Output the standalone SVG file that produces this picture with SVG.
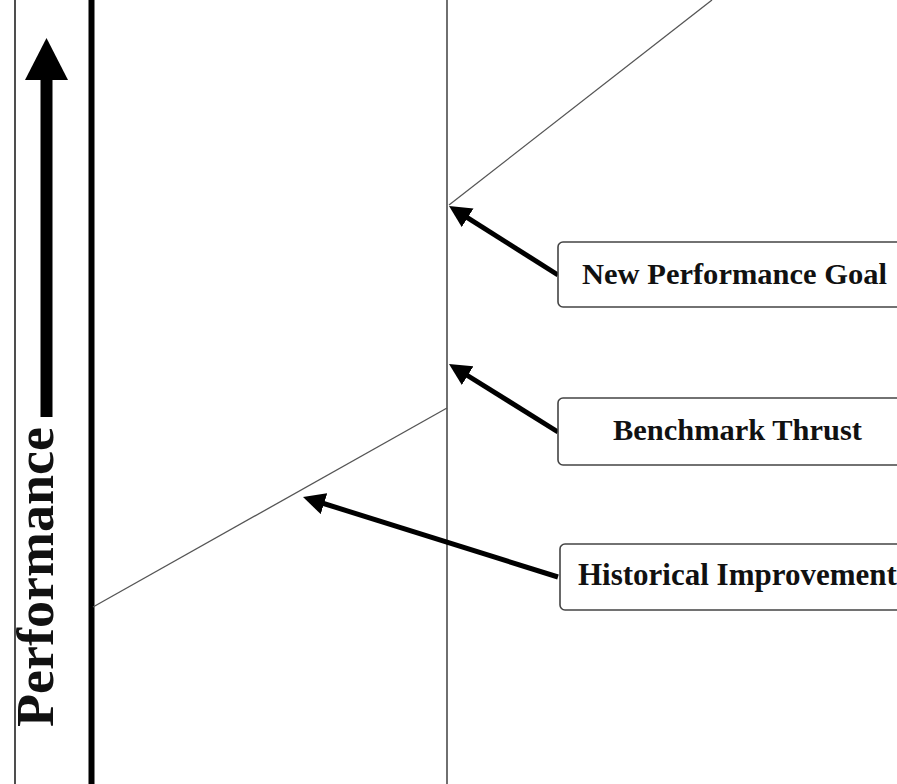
<svg xmlns="http://www.w3.org/2000/svg" width="897" height="784" viewBox="0 0 897 784">
<style>
.lbl{font-family:"Liberation Serif","Times New Roman",serif;font-weight:bold;font-size:30px;fill:#111}
.box{fill:#fff;stroke:#444;stroke-width:1.6}
.ptr{stroke:#000;stroke-width:5;fill:none;marker-end:url(#ah)}
.trend{stroke:#555;stroke-width:1.3;fill:none}
</style>
<defs>
<marker id="ah" viewBox="0 0 10 10" refX="4" refY="5" markerWidth="4.4" markerHeight="4.4" orient="auto" markerUnits="strokeWidth">
<path d="M0,0 L10,5 L0,10 Z" fill="#000"/>
</marker>
</defs>
<rect width="897" height="784" fill="#fff"/>
<g id="frame">
<line x1="15" y1="0" x2="15" y2="784" stroke="#222" stroke-width="1.6"/>
<line x1="91.5" y1="0" x2="91.5" y2="784" stroke="#000" stroke-width="6"/>
<line x1="447" y1="0" x2="447" y2="784" stroke="#333" stroke-width="1.4"/>
</g>
<g id="axis-label">
<line x1="46.5" y1="417" x2="46.5" y2="78" stroke="#000" stroke-width="12"/>
<polygon points="46.5,38 68,80 25,80" fill="#000"/>
<text class="lbl" transform="translate(53,727) rotate(-90)" font-size="52" textLength="300" lengthAdjust="spacingAndGlyphs" style="font-size:52px">Performance</text>
</g>
<g id="trends">
<line class="trend" x1="93" y1="607" x2="447" y2="408"/>
<line class="trend" x1="449" y1="205" x2="712" y2="0"/>
</g>
<g id="connectors">
<line class="ptr" x1="558" y1="275" x2="460.2" y2="213.1"/>
<line class="ptr" x1="558" y1="432" x2="460.2" y2="371"/>
<line class="ptr" x1="558" y1="577" x2="315.6" y2="501"/>
</g>
<g id="node-goal">
<rect class="box" x="558" y="242" width="380" height="65" rx="5"/>
<text class="lbl" x="582" y="284" textLength="305" lengthAdjust="spacingAndGlyphs">New Performance Goal</text>
</g>
<g id="node-benchmark">
<rect class="box" x="558" y="398" width="380" height="67" rx="5"/>
<text class="lbl" x="613" y="440" textLength="249" lengthAdjust="spacingAndGlyphs">Benchmark Thrust</text>
</g>
<g id="node-historical">
<rect class="box" x="560" y="544" width="380" height="66" rx="5"/>
<text class="lbl" x="578" y="585" style="font-size:31px">Historical Improvement</text>
</g>
</svg>
